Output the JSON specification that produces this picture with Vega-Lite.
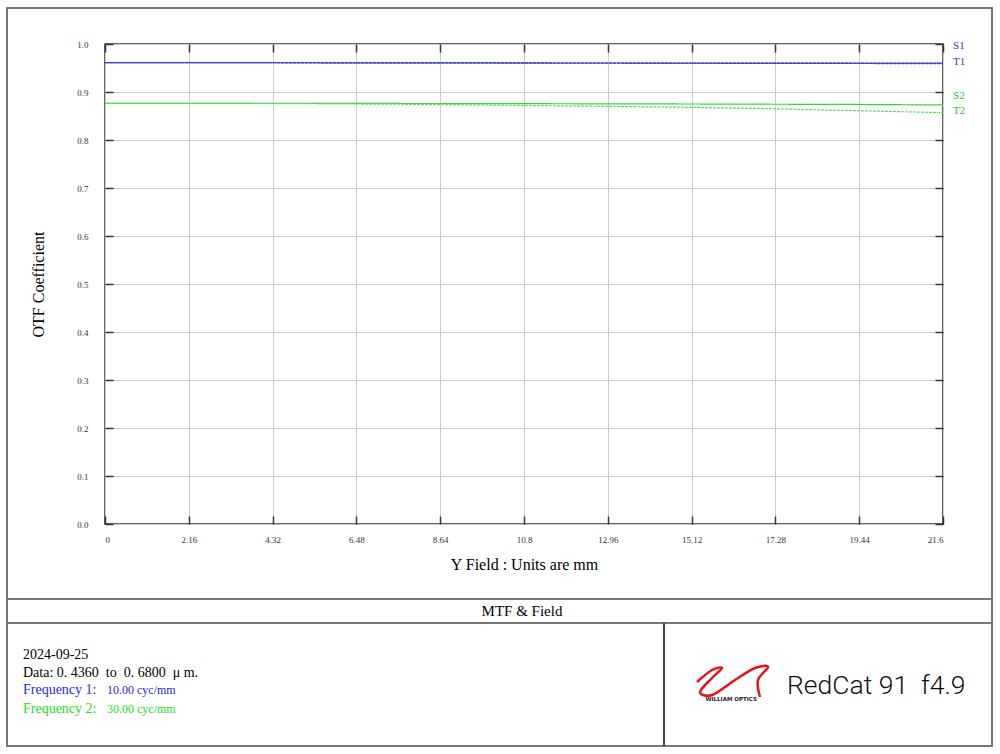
{
  "$schema": "https://vega.github.io/schema/vega-lite/v6.json",
  "width": 838,
  "height": 480,
  "autosize": {"type": "none"},
  "padding": {"left": 105, "top": 44, "right": 57, "bottom": 230},
  "background": "white",
  "config": {
    "view": {"stroke": "#333", "strokeWidth": 1.5},
    "axis": {"labelFont": "Liberation Serif", "labelFontSize": 9, "labelColor": "#333", "titleFont": "Liberation Serif", "titleFontSize": 16, "titleFontWeight": "normal", "titleColor": "#000"}
  },
  "datasets": {
    "mtf": [
      {"field": 0, "otf": 0.961, "series": "S1"},
      {"field": 2.16, "otf": 0.961, "series": "S1"},
      {"field": 4.32, "otf": 0.961, "series": "S1"},
      {"field": 6.48, "otf": 0.9608, "series": "S1"},
      {"field": 8.64, "otf": 0.9606, "series": "S1"},
      {"field": 10.8, "otf": 0.9605, "series": "S1"},
      {"field": 12.96, "otf": 0.9604, "series": "S1"},
      {"field": 15.12, "otf": 0.9602, "series": "S1"},
      {"field": 17.28, "otf": 0.9601, "series": "S1"},
      {"field": 19.44, "otf": 0.96, "series": "S1"},
      {"field": 21.6, "otf": 0.96, "series": "S1"},
      {"field": 0, "otf": 0.961, "series": "T1"},
      {"field": 2.16, "otf": 0.961, "series": "T1"},
      {"field": 4.32, "otf": 0.9609, "series": "T1"},
      {"field": 6.48, "otf": 0.9607, "series": "T1"},
      {"field": 8.64, "otf": 0.9605, "series": "T1"},
      {"field": 10.8, "otf": 0.9603, "series": "T1"},
      {"field": 12.96, "otf": 0.9601, "series": "T1"},
      {"field": 15.12, "otf": 0.9599, "series": "T1"},
      {"field": 17.28, "otf": 0.9597, "series": "T1"},
      {"field": 19.44, "otf": 0.9594, "series": "T1"},
      {"field": 21.6, "otf": 0.959, "series": "T1"},
      {"field": 0, "otf": 0.8765, "series": "S2"},
      {"field": 2.16, "otf": 0.8765, "series": "S2"},
      {"field": 4.32, "otf": 0.8764, "series": "S2"},
      {"field": 6.48, "otf": 0.8762, "series": "S2"},
      {"field": 8.64, "otf": 0.876, "series": "S2"},
      {"field": 10.8, "otf": 0.8757, "series": "S2"},
      {"field": 12.96, "otf": 0.8753, "series": "S2"},
      {"field": 15.12, "otf": 0.875, "series": "S2"},
      {"field": 17.28, "otf": 0.8745, "series": "S2"},
      {"field": 19.44, "otf": 0.874, "series": "S2"},
      {"field": 21.6, "otf": 0.873, "series": "S2"},
      {"field": 0, "otf": 0.8765, "series": "T2"},
      {"field": 2.16, "otf": 0.8764, "series": "T2"},
      {"field": 4.32, "otf": 0.876, "series": "T2"},
      {"field": 6.48, "otf": 0.875, "series": "T2"},
      {"field": 8.64, "otf": 0.874, "series": "T2"},
      {"field": 10.8, "otf": 0.872, "series": "T2"},
      {"field": 12.96, "otf": 0.87, "series": "T2"},
      {"field": 15.12, "otf": 0.868, "series": "T2"},
      {"field": 17.28, "otf": 0.865, "series": "T2"},
      {"field": 19.44, "otf": 0.861, "series": "T2"},
      {"field": 21.6, "otf": 0.857, "series": "T2"}
    ],
    "frame": [
      {"x": -2.526, "x2": 22.863, "y": 1.075, "y2": -0.4625}
    ],
    "hrules": [
      {"x": -2.526, "x2": 22.863, "y": -0.15625},
      {"x": -2.526, "x2": 22.863, "y": -0.20625}
    ],
    "vrules": [
      {"x": 14.409, "y": -0.20625, "y2": -0.4625}
    ],
    "swoosh": [
      {"k": 1, "x": 15.259, "y": -0.3292},
      {"k": 2, "x": 15.646, "y": -0.3042},
      {"k": 3, "x": 15.904, "y": -0.3},
      {"k": 4, "x": 15.646, "y": -0.3208},
      {"k": 5, "x": 15.337, "y": -0.35},
      {"k": 6, "x": 15.646, "y": -0.35625},
      {"k": 7, "x": 16.239, "y": -0.325},
      {"k": 8, "x": 16.754, "y": -0.3},
      {"k": 9, "x": 17.09, "y": -0.2979},
      {"k": 10, "x": 16.832, "y": -0.325},
      {"k": 11, "x": 16.883, "y": -0.3604}
    ]
  },
  "layer": [
    {
      "data": {"name": "frame"},
      "mark": {"type": "rect", "fill": null, "stroke": "#777", "strokeWidth": 2, "clip": false},
      "encoding": {
        "x": {"field": "x", "type": "quantitative", "axis": null},
        "x2": {"field": "x2"},
        "y": {"field": "y", "type": "quantitative", "axis": null},
        "y2": {"field": "y2"}
      }
    },
    {
      "data": {"name": "hrules"},
      "mark": {"type": "rule", "stroke": "#777", "strokeWidth": 2, "clip": false},
      "encoding": {
        "x": {"field": "x", "type": "quantitative", "axis": null},
        "x2": {"field": "x2"},
        "y": {"field": "y", "type": "quantitative", "axis": null}
      }
    },
    {
      "data": {"name": "vrules"},
      "mark": {"type": "rule", "stroke": "#444", "strokeWidth": 2, "clip": false},
      "encoding": {
        "x": {"field": "x", "type": "quantitative", "axis": null},
        "y": {"field": "y", "type": "quantitative", "axis": null},
        "y2": {"field": "y2"}
      }
    },
    {
      "data": {"name": "mtf"},
      "mark": {"type": "line", "strokeWidth": 1.2, "clip": false},
      "encoding": {
        "x": {
          "field": "field", "type": "quantitative",
          "scale": {"domain": [0, 21.6], "nice": false, "zero": false},
          "axis": {
            "orient": "bottom", "values": [0, 2.16, 4.32, 6.48, 8.64, 10.8, 12.96, 15.12, 17.28, 19.44, 21.6],
            "labelExpr": "'' + datum.value", "grid": true, "gridColor": "#cccccc", "gridWidth": 1,
            "domain": false, "tickSize": -8, "tickColor": "#333", "tickWidth": 1.5,
            "labelPadding": 19, "title": "Y Field : Units are mm", "titlePadding": 12
          }
        },
        "y": {
          "field": "otf", "type": "quantitative",
          "scale": {"domain": [0, 1], "nice": false, "zero": false},
          "axis": {
            "orient": "left", "values": [0, 0.1, 0.2, 0.3, 0.4, 0.5, 0.6, 0.7, 0.8, 0.9, 1.0],
            "format": ".1f", "grid": true, "gridColor": "#cccccc", "gridWidth": 1,
            "domain": false, "tickSize": -8, "tickColor": "#333", "tickWidth": 1.5,
            "labelPadding": 25, "title": "OTF Coefficient", "titlePadding": 30
          }
        },
        "color": {
          "field": "series", "type": "nominal",
          "scale": {"domain": ["S1", "T1", "S2", "T2"], "range": ["#3b3bdc", "#3b3bdc", "#2edc2e", "#5fe25f"]},
          "legend": null
        },
        "strokeDash": {
          "field": "series", "type": "nominal",
          "scale": {"domain": ["S1", "T1", "S2", "T2"], "range": [[1, 0], [3, 1], [1, 0], [3, 1]]},
          "legend": null
        }
      }
    },
    {
      "data": {"name": "mtf"},
      "mark": {"type": "point", "opacity": 0, "clip": false},
      "encoding": {
        "x": {
          "field": "field", "type": "quantitative",
          "axis": {"orient": "top", "values": [0, 2.16, 4.32, 6.48, 8.64, 10.8, 12.96, 15.12, 17.28, 19.44, 21.6], "labels": false, "grid": false, "domain": false, "tickSize": -8, "tickColor": "#333", "tickWidth": 1.5, "title": null}
        },
        "y": {
          "field": "otf", "type": "quantitative",
          "axis": {"orient": "right", "values": [0, 0.1, 0.2, 0.3, 0.4, 0.5, 0.6, 0.7, 0.8, 0.9, 1.0], "labels": false, "grid": false, "domain": false, "tickSize": -8, "tickColor": "#333", "tickWidth": 1.5, "title": null}
        }
      }
    },
    {
      "data": {"values": [
        {"x": 21.86, "y": 0.9958, "label": "S1"},
        {"x": 21.86, "y": 0.9625, "label": "T1"}
      ]},
      "mark": {"type": "text", "align": "left", "baseline": "middle", "font": "Liberation Serif", "fontSize": 11, "color": "#3333dd", "clip": false},
      "encoding": {
        "x": {"field": "x", "type": "quantitative", "axis": null},
        "y": {"field": "y", "type": "quantitative", "axis": null},
        "text": {"field": "label"}
      }
    },
    {
      "data": {"values": [
        {"x": 21.86, "y": 0.8917, "label": "S2"},
        {"x": 21.86, "y": 0.8604, "label": "T2"}
      ]},
      "mark": {"type": "text", "align": "left", "baseline": "middle", "font": "Liberation Serif", "fontSize": 11, "color": "#22cc22", "clip": false},
      "encoding": {
        "x": {"field": "x", "type": "quantitative", "axis": null},
        "y": {"field": "y", "type": "quantitative", "axis": null},
        "text": {"field": "label"}
      }
    },
    {
      "data": {"values": [{"x": 10.749, "y": -0.18125, "t": "MTF & Field"}]},
      "mark": {"type": "text", "align": "center", "baseline": "middle", "font": "Liberation Serif", "fontSize": 15, "color": "#000", "clip": false},
      "encoding": {
        "x": {"field": "x", "type": "quantitative", "axis": null},
        "y": {"field": "y", "type": "quantitative", "axis": null},
        "text": {"field": "t"}
      }
    },
    {
      "data": {"values": [
        {"x": -2.114, "y": -0.2729, "t": "2024-09-25"},
        {"x": -2.114, "y": -0.3104, "t": "Data: 0. 4360\u00a0\u00a0to\u00a0\u00a00. 6800\u00a0\u00a0μ m."}
      ]},
      "mark": {"type": "text", "align": "left", "baseline": "middle", "font": "Liberation Serif", "fontSize": 14, "color": "#000", "clip": false},
      "encoding": {
        "x": {"field": "x", "type": "quantitative", "axis": null},
        "y": {"field": "y", "type": "quantitative", "axis": null},
        "text": {"field": "t"}
      }
    },
    {
      "data": {"values": [
        {"x": -2.114, "y": -0.3458, "t": "Frequency 1:"},
        {"x": 0.0515, "y": -0.3458, "t": "10.00 cyc/mm"}
      ]},
      "mark": {"type": "text", "align": "left", "baseline": "middle", "font": "Liberation Serif", "fontSize": 14, "color": "#1f1fe6", "clip": false},
      "encoding": {
        "x": {"field": "x", "type": "quantitative", "axis": null},
        "y": {"field": "y", "type": "quantitative", "axis": null},
        "text": {"field": "t"},
        "size": {"condition": {"test": "datum.t == 'Frequency 1:'", "value": 14}, "value": 12}
      }
    },
    {
      "data": {"values": [
        {"x": -2.114, "y": -0.3854, "t": "Frequency 2:"},
        {"x": 0.0515, "y": -0.3854, "t": "30.00 cyc/mm"}
      ]},
      "mark": {"type": "text", "align": "left", "baseline": "middle", "font": "Liberation Serif", "fontSize": 14, "color": "#22dd22", "clip": false},
      "encoding": {
        "x": {"field": "x", "type": "quantitative", "axis": null},
        "y": {"field": "y", "type": "quantitative", "axis": null},
        "text": {"field": "t"},
        "size": {"condition": {"test": "datum.t == 'Frequency 2:'", "value": 14}, "value": 12}
      }
    },
    {
      "data": {"name": "swoosh"},
      "mark": {"type": "line", "color": "#e8101a", "strokeWidth": 2.5, "interpolate": "cardinal", "clip": false},
      "encoding": {
        "x": {"field": "x", "type": "quantitative", "axis": null},
        "y": {"field": "y", "type": "quantitative", "axis": null},
        "order": {"field": "k"}
      }
    },
    {
      "data": {"values": [{"x": 16.14, "y": -0.3646, "t": "WILLIAM OPTICS"}]},
      "mark": {"type": "text", "align": "center", "baseline": "middle", "font": "DejaVu Sans", "fontSize": 5.5, "fontWeight": "bold", "color": "#222", "clip": false},
      "encoding": {
        "x": {"field": "x", "type": "quantitative", "axis": null},
        "y": {"field": "y", "type": "quantitative", "axis": null},
        "text": {"field": "t"}
      }
    },
    {
      "data": {"values": [{"x": 17.58, "y": -0.3375, "t": "RedCat 91\u00a0\u00a0f4.9"}]},
      "mark": {"type": "text", "align": "left", "baseline": "middle", "font": "Roboto", "fontSize": 26.5, "fontWeight": 300, "color": "#111", "clip": false},
      "encoding": {
        "x": {"field": "x", "type": "quantitative", "axis": null},
        "y": {"field": "y", "type": "quantitative", "axis": null},
        "text": {"field": "t"}
      }
    }
  ],
  "resolve": {"axis": {"x": "independent", "y": "independent"}}
}
